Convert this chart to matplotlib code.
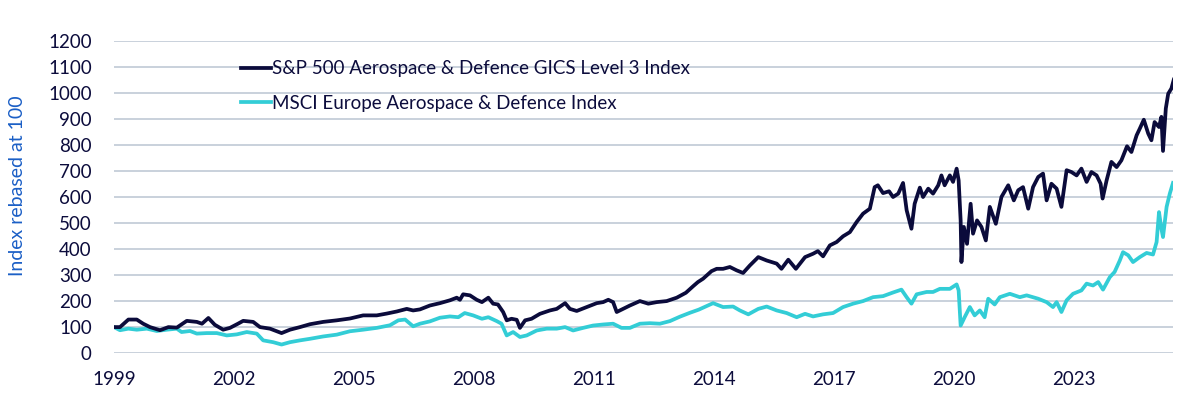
import numpy as np
import matplotlib
matplotlib.use("Agg")
import matplotlib.pyplot as plt

plt.rcParams['font.family'] = ['Lato', 'DejaVu Sans']

# values (decimal year, index level)
sp_years = [1999.0, 1999.15, 1999.36, 1999.57, 1999.73, 1999.9, 2000.15, 2000.36, 2000.57, 2000.82,
            2001.07, 2001.2, 2001.36, 2001.52, 2001.73, 2001.9, 2002.1, 2002.23, 2002.48, 2002.65,
            2002.9, 2003.19, 2003.4, 2003.65, 2003.9, 2004.23, 2004.57, 2004.9, 2005.23, 2005.57,
            2005.82, 2006.07, 2006.32, 2006.48, 2006.65, 2006.9, 2007.15, 2007.4, 2007.57, 2007.65,
            2007.73, 2007.9, 2008.07, 2008.2, 2008.36, 2008.48, 2008.6, 2008.73, 2008.82, 2008.94,
            2009.07, 2009.15, 2009.28, 2009.44, 2009.65, 2009.9, 2010.07, 2010.28, 2010.4, 2010.57,
            2010.82, 2011.07, 2011.23, 2011.36, 2011.48, 2011.57, 2011.73, 2011.9, 2012.15, 2012.36,
            2012.57, 2012.82, 2013.07, 2013.3, 2013.48, 2013.6, 2013.73, 2013.94, 2014.07, 2014.23,
            2014.4, 2014.57, 2014.73, 2014.9, 2015.11, 2015.32, 2015.57, 2015.69, 2015.86, 2016.05,
            2016.28, 2016.48, 2016.6, 2016.73, 2016.9, 2017.07, 2017.23, 2017.4, 2017.57, 2017.73,
            2017.9, 2018.02, 2018.1, 2018.23, 2018.38, 2018.48, 2018.61, 2018.73, 2018.82, 2018.94,
            2019.02, 2019.15, 2019.23, 2019.36, 2019.48, 2019.61, 2019.69, 2019.77, 2019.9, 2019.98,
            2020.07, 2020.12, 2020.17, 2020.19, 2020.25, 2020.33, 2020.42, 2020.48, 2020.58, 2020.69,
            2020.8, 2020.9, 2021.05, 2021.19, 2021.36, 2021.5, 2021.61, 2021.73, 2021.86, 2021.98,
            2022.11, 2022.23, 2022.32, 2022.44, 2022.57, 2022.69, 2022.82, 2022.94, 2023.07, 2023.19,
            2023.32, 2023.44, 2023.57, 2023.67, 2023.72, 2023.82, 2023.94, 2024.07, 2024.19, 2024.33,
            2024.44, 2024.57, 2024.65, 2024.75, 2024.86, 2024.94, 2025.02, 2025.13, 2025.19, 2025.23,
            2025.3, 2025.36, 2025.44, 2025.5]
sp_values = [100, 100, 129, 129, 113, 100, 88, 100, 98, 124,
             120, 113, 135, 109, 90, 97, 113, 124, 120, 100,
             94, 77, 90, 100, 111, 120, 126, 133, 145, 145,
             152, 160, 170, 164, 168, 183, 192, 203, 213, 205,
             226, 222, 205, 196, 213, 190, 187, 158, 126, 132,
             128, 97, 126, 132, 151, 164, 170, 192, 170, 162,
             177, 192, 196, 205, 196, 158, 170, 183, 200, 190,
             196, 200, 213, 232, 257, 273, 286, 315, 324, 324,
             331, 318, 308, 337, 369, 356, 344, 324, 359, 324,
             369, 382, 392, 372, 414, 427, 449, 465, 504, 536,
             555, 638, 645, 615, 622, 600, 613, 654, 549, 478,
             574, 636, 600, 632, 613, 645, 683, 645, 683, 658,
             709, 664, 510, 350, 485, 420, 574, 459, 510, 485,
             433, 562, 497, 600, 645, 587, 626, 638, 555, 638,
             677, 690, 587, 651, 632, 562, 703, 696, 683, 709,
             658, 696, 683, 651, 594, 664, 735, 715, 741, 795,
             773, 837, 863, 897, 844, 818, 888, 869, 908, 777,
             940, 997, 1017, 1051]

msci_years = [1999.0, 1999.15, 1999.36, 1999.57, 1999.82, 2000.07, 2000.32, 2000.57, 2000.69, 2000.9,
              2001.07, 2001.32, 2001.57, 2001.82, 2002.07, 2002.32, 2002.57, 2002.73, 2002.98, 2003.19,
              2003.4, 2003.65, 2003.9, 2004.23, 2004.57, 2004.9, 2005.23, 2005.57, 2005.9, 2006.11,
              2006.28, 2006.48, 2006.65, 2006.9, 2007.15, 2007.4, 2007.61, 2007.77, 2007.98, 2008.2,
              2008.36, 2008.57, 2008.69, 2008.82, 2008.98, 2009.15, 2009.32, 2009.57, 2009.82, 2010.07,
              2010.28, 2010.48, 2010.73, 2010.98, 2011.23, 2011.48, 2011.69, 2011.9, 2012.15, 2012.4,
              2012.65, 2012.9, 2013.15, 2013.4, 2013.62, 2013.98, 2014.23, 2014.48, 2014.65, 2014.86,
              2015.11, 2015.32, 2015.57, 2015.82, 2016.07, 2016.28, 2016.48, 2016.73, 2016.98, 2017.23,
              2017.48, 2017.73, 2017.98, 2018.23, 2018.48, 2018.69, 2018.82, 2018.94, 2019.07, 2019.32,
              2019.48, 2019.65, 2019.9, 2020.07, 2020.12, 2020.17, 2020.27, 2020.4, 2020.52, 2020.65,
              2020.77, 2020.86, 2021.02, 2021.15, 2021.4, 2021.65, 2021.82, 2021.98, 2022.11, 2022.32,
              2022.48, 2022.57, 2022.69, 2022.82, 2022.98, 2023.19, 2023.32, 2023.48, 2023.61, 2023.73,
              2023.9, 2024.02, 2024.15, 2024.23, 2024.36, 2024.48, 2024.65, 2024.82, 2024.98, 2025.07,
              2025.13, 2025.19, 2025.23, 2025.32, 2025.4, 2025.48]
msci_values = [100, 88, 94, 90, 94, 85, 90, 94, 81, 85,
               75, 77, 77, 68, 72, 81, 75, 49, 42, 33,
               42, 49, 55, 64, 71, 84, 90, 97, 107, 126,
               129, 103, 113, 122, 136, 141, 138, 154, 145, 132,
               138, 123, 113, 68, 81, 62, 68, 87, 94, 94,
               100, 87, 97, 106, 110, 113, 97, 97, 113, 115,
               113, 123, 140, 155, 167, 192, 177, 179, 164, 149,
               170, 179, 164, 154, 138, 151, 141, 149, 154, 177,
               190, 200, 215, 219, 233, 244, 215, 190, 226, 235,
               235, 247, 247, 264, 241, 106, 138, 177, 145, 164,
               138, 209, 187, 215, 228, 215, 222, 215, 209, 196,
               177, 196, 158, 203, 228, 241, 267, 260, 273, 244,
               292, 312, 356, 388, 376, 350, 369, 385, 379, 427,
               542, 478, 446, 562, 613, 654]

sp_label = 'S&P 500 Aerospace & Defence GICS Level 3 Index'
msci_label = 'MSCI Europe Aerospace & Defence Index'
year_ticks = [1999, 2002, 2005, 2008, 2011, 2014, 2017, 2020, 2023]
y_ticks = list(range(0, 1201, 100))

navy = '#0b0b3b'
cyan = '#33cdd6'
text_col = '#0c0c3c'

fig = plt.figure(figsize=(12, 4.13), dpi=100)
ax = fig.add_axes([0.095, 0.145, 0.8825, 0.756])

ax.plot(sp_years, sp_values, color=navy, lw=2.7, label=sp_label, zorder=3)
ax.plot(msci_years, msci_values, color=cyan, lw=2.7, label=msci_label, zorder=2)

ax.set_xlim(1999, 2025.48)
ax.set_ylim(0, 1200)
ax.set_xticks(year_ticks)
ax.set_xticklabels([str(y) for y in year_ticks])
ax.set_yticks(y_ticks)
ax.tick_params(axis='both', length=0, labelsize=13.5, colors=text_col)
ax.tick_params(axis='y', pad=16)
ax.tick_params(axis='x', pad=13)

ax.yaxis.grid(True, color='#c9d1dc', lw=1.4)
ax.set_axisbelow(True)
for s in ax.spines.values():
    s.set_visible(False)

ax.set_ylabel('Index rebased at 100', color='#1b5fc6', fontsize=14)
ax.yaxis.set_label_coords(-0.083, 0.535)

leg = ax.legend(loc='upper left', bbox_to_anchor=(0.116, 0.95), frameon=False,
                fontsize=13.5, handlelength=1.6, handletextpad=0.1, labelspacing=0.95,
                borderaxespad=0, borderpad=0.2)
for t in leg.get_texts():
    t.set_color(text_col)

plt.savefig('out.png', dpi=100)
